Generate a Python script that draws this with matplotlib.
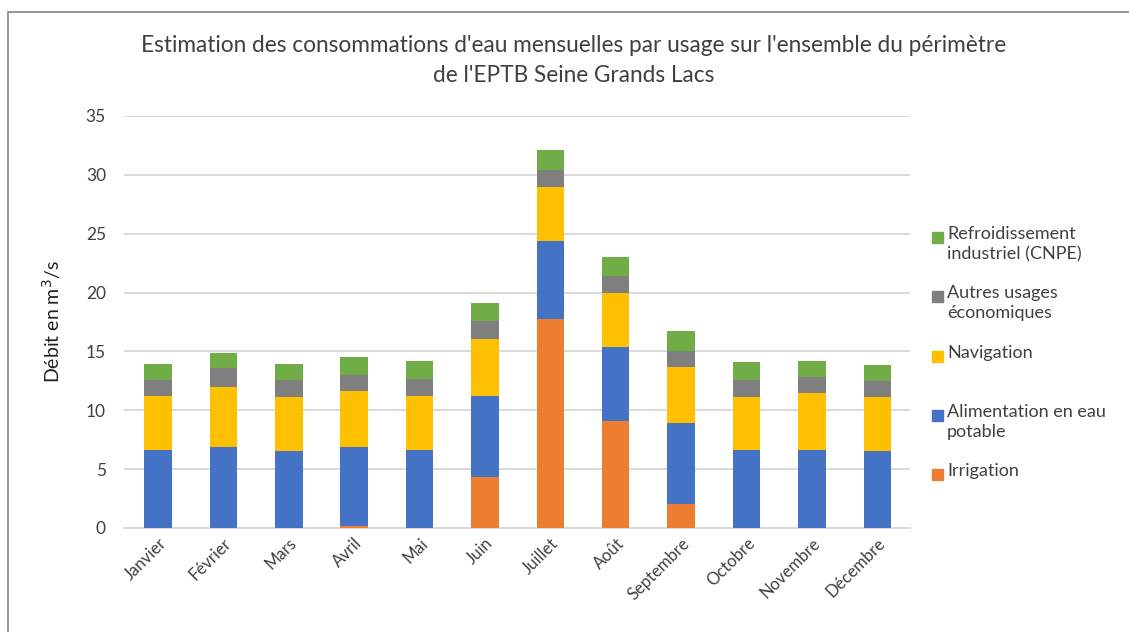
import matplotlib
matplotlib.use("Agg")
import matplotlib.pyplot as plt
from matplotlib.patches import Rectangle
import numpy as np

plt.rcParams['font.family'] = ['Lato', 'DejaVu Sans']

mois = ['Janvier', 'Février', 'Mars', 'Avril', 'Mai', 'Juin', 'Juillet',
        'Août', 'Septembre', 'Octobre', 'Novembre', 'Décembre']

# valeurs (m3/s)
irrigation = [0, 0, 0, 0.15, 0, 4.3, 17.75, 9.05, 2.05, 0, 0, 0]
alimentation = [6.65, 6.9, 6.55, 6.7, 6.65, 6.95, 6.6, 6.3, 6.85, 6.65, 6.65, 6.5]
navigation = [4.6, 5.05, 4.6, 4.75, 4.6, 4.8, 4.6, 4.6, 4.75, 4.5, 4.8, 4.6]
autres = [1.35, 1.6, 1.45, 1.4, 1.4, 1.5, 1.45, 1.45, 1.4, 1.4, 1.4, 1.4]
refroidissement = [1.3, 1.35, 1.35, 1.55, 1.5, 1.6, 1.7, 1.6, 1.65, 1.55, 1.35, 1.35]

series = [irrigation, alimentation, navigation, autres, refroidissement]
noms = ['Irrigation', 'Alimentation en eau\npotable', 'Navigation',
        'Autres usages\néconomiques', 'Refroidissement\nindustriel (CNPE)']
couleurs = ['#ED7D31', '#4472C4', '#FFC000', '#7F7F7F', '#70AD47']

fig = plt.figure(figsize=(11.29, 6.32), dpi=100)
ax = fig.add_axes([124 / 1129, 1 - 528 / 632, (910 - 124) / 1129, (528 - 116) / 632])

x = np.arange(len(mois))
bas = np.zeros(len(mois))
for vals, nom, c in zip(series, noms, couleurs):
    ax.bar(x, vals, width=0.42, bottom=bas, color=c, label=nom, zorder=3)
    bas += np.array(vals)

ax.set_xlim(-0.52, 11.5)
ax.set_ylim(0, 35)
ax.set_yticks(range(0, 36, 5))
ax.yaxis.grid(True, color='#d9d9d9', linewidth=1.4, zorder=0)
for s in ['top', 'right', 'left']:
    ax.spines[s].set_visible(False)
ax.spines['bottom'].set_color('#d9d9d9')
ax.spines['bottom'].set_linewidth(1.4)
ax.tick_params(length=0, labelcolor='#404040')
ax.tick_params(axis='y', pad=13, labelsize=12.5)
ax.set_xticks(x)
ax.set_xticklabels(mois, rotation=45, ha='right', rotation_mode='anchor')
ax.tick_params(axis='x', pad=5, labelsize=12)

ax.set_ylabel('Débit en m$^3$/s', fontsize=14, color='#222222', labelpad=16)

fig.text(574 / 1129, 1 - 45 / 632, "Estimation des consommations d'eau mensuelles par usage sur l'ensemble du périmètre",
         ha='center', va='center', fontsize=16.3, color='#404040')
fig.text(574 / 1129, 1 - 75 / 632, "de l'EPTB Seine Grands Lacs",
         ha='center', va='center', fontsize=16.3, color='#404040')

# légende : une entrée par usage, du haut vers le bas
for i, (nom, c) in enumerate(zip(noms[::-1], couleurs[::-1])):
    ypix = 237 + i * 59.3
    fig.patches.append(Rectangle((932 / 1129, 1 - (ypix + 6) / 632), 11 / 1129, 11 / 632,
                                 transform=fig.transFigure, color=c))
    fig.text(947 / 1129, 1 - (ypix - 11) / 632, nom, ha='left', va='top',
             fontsize=13, color='#404040', linespacing=1.3)

# cadre gris autour du graphique
fig.patches.append(Rectangle((8 / 1129, -0.05), 1.1, 1 - 12 / 632 + 0.05, transform=fig.transFigure,
                             fill=False, edgecolor='#8c8c8c', linewidth=1.3))

fig.savefig('out.png', dpi=100)
